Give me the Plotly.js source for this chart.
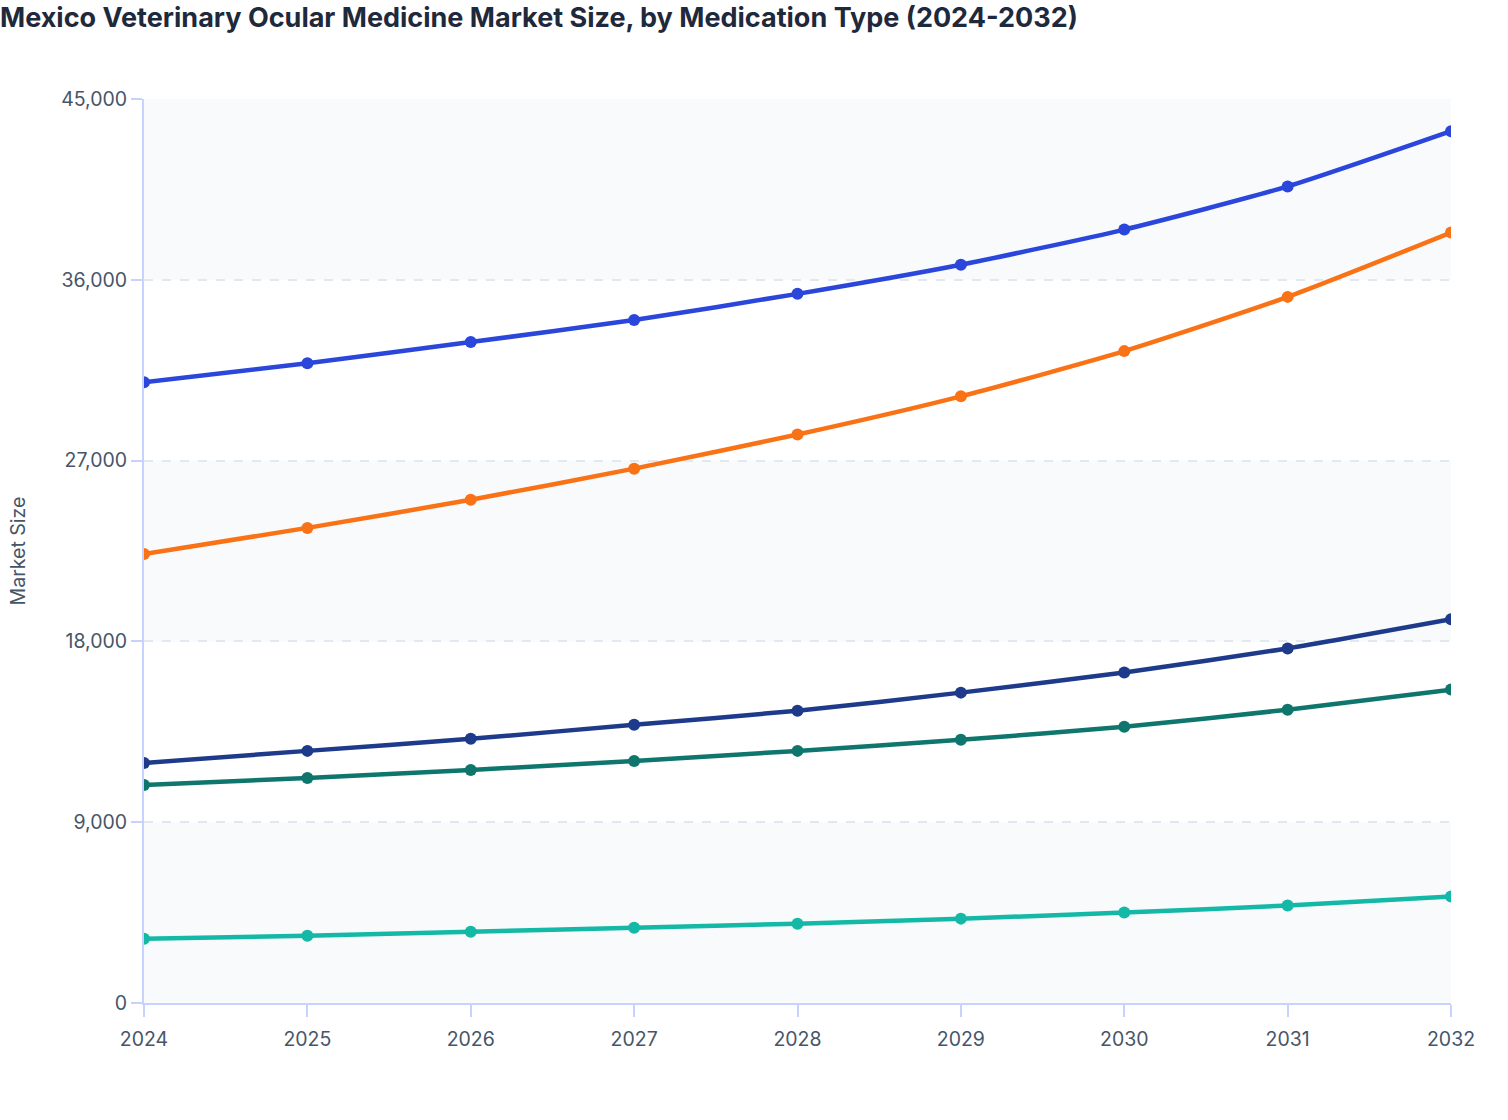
<!DOCTYPE html>
<html>
<head>
<meta charset="utf-8">
<script src="https://cdn.plot.ly/plotly-3.0.1.min.js"></script>
<style>
  html, body { margin: 0; padding: 0; background: #fff; }
  #chart { width: 1508px; height: 1120px; }
</style>
</head>
<body>
<div id="chart"></div>
<script>
const years = ['2024', '2025', '2026', '2027', '2028', '2029', '2030', '2031', '2032'];

const antibiotics = [30900, 31850, 32900, 34000, 35300, 36750, 38500, 40650, 43400];
const antiInflammatory = [22350, 23650, 25050, 26600, 28300, 30200, 32450, 35150, 38350];
const lubricants = [11950, 12550, 13150, 13850, 14550, 15450, 16450, 17650, 19100];
const antiGlaucoma = [10850, 11200, 11600, 12050, 12550, 13100, 13750, 14600, 15600];
const others = [3200, 3350, 3550, 3750, 3950, 4200, 4500, 4850, 5300];

const yTicks = [0, 9000, 18000, 27000, 36000, 45000];

const SERIES = [
  { name: 'Antibiotics', y: antibiotics, color: '#2a46db' },
  { name: 'Anti-inflammatory', y: antiInflammatory, color: '#f97316' },
  { name: 'Lubricants', y: lubricants, color: '#1e3a8a' },
  { name: 'Anti-glaucoma', y: antiGlaucoma, color: '#0f766e' },
  { name: 'Others', y: others, color: '#14b8a6' },
];

function buildTraces() {
  return SERIES.map((s) => ({
    type: 'scatter',
    mode: 'lines+markers',
    name: s.name,
    x: years,
    y: s.y,
    line: { color: s.color, width: 4.5, shape: 'spline', smoothing: 0.6 },
    marker: { color: s.color, size: 12 },
    hovertemplate: s.name + '<br>%{x}: %{y:,}<extra></extra>',
  }));
}

// alternating background bands between grid lines
function buildBands() {
  const bands = [];
  for (let i = 0; i < yTicks.length - 1; i += 2) {
    bands.push({
      type: 'rect',
      xref: 'paper',
      yref: 'y',
      x0: 0,
      x1: 1,
      y0: yTicks[i],
      y1: yTicks[i + 1],
      fillcolor: '#f8fafc',
      line: { width: 0 },
      layer: 'below',
    });
  }
  return bands;
}

const layout = {
  width: 1508,
  height: 1120,
  margin: { t: 99, r: 57, b: 117, l: 144 },
  paper_bgcolor: '#ffffff',
  plot_bgcolor: '#ffffff',
  showlegend: false,
  font: { family: 'Inter, "Open Sans", sans-serif', color: '#475569' },
  title: {
    text: '<b>Mexico Veterinary Ocular Medicine Market Size, by Medication Type (2024-2032)</b>',
    font: { size: 27, color: '#1e293b', family: 'Inter, sans-serif' },
    x: 0,
    xanchor: 'left',
    xref: 'container',
    y: 0.984,
    yanchor: 'middle',
    pad: { l: 0, t: 0 },
  },
  xaxis: {
    type: 'category',
    range: [0, years.length - 1],
    showgrid: false,
    showline: true,
    linecolor: '#c7d2fe',
    linewidth: 2,
    ticks: 'outside',
    ticklen: 12,
    tickwidth: 2,
    tickcolor: '#c7d2fe',
    ticklabelstandoff: 6,
    tickfont: { size: 19.5, color: '#475569' },
    zeroline: false,
  },
  yaxis: {
    range: [0, 45000],
    tickvals: yTicks,
    tickformat: ',d',
    showgrid: true,
    gridcolor: '#e2e8f0',
    griddash: 'dash',
    gridwidth: 1.5,
    showline: true,
    linecolor: '#c7d2fe',
    linewidth: 2,
    ticks: 'outside',
    ticklen: 11,
    tickwidth: 2,
    tickcolor: '#c7d2fe',
    tickfont: { size: 19.5, color: '#475569' },
    zeroline: false,
    title: { text: 'Market Size', font: { size: 19.5, color: '#475569' }, standoff: 30 },
  },
  shapes: buildBands(),
};

Plotly.newPlot('chart', buildTraces(), layout, { displayModeBar: false, responsive: false });
</script>
</body>
</html>
